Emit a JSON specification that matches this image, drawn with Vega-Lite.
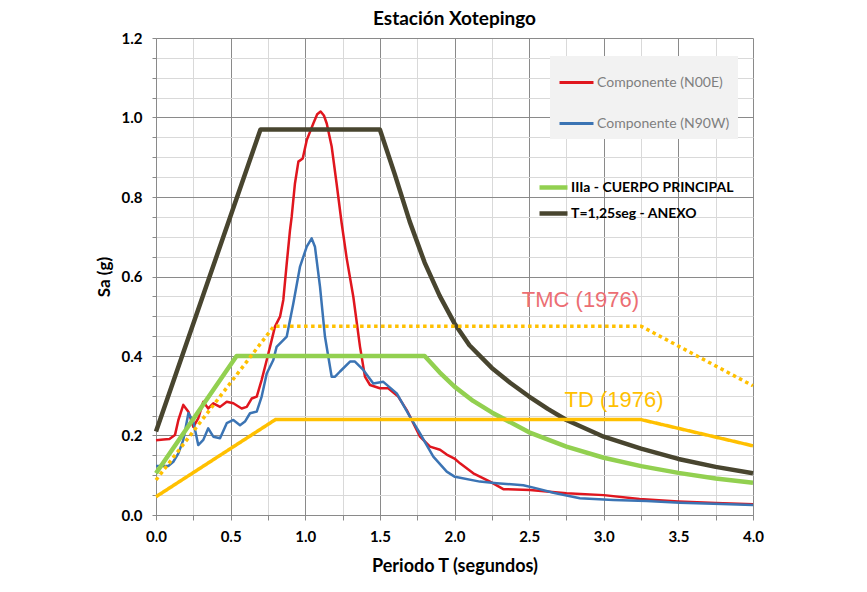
{
  "$schema": "https://vega.github.io/schema/vega-lite/v6.json",
  "width": 597,
  "height": 477,
  "autosize": {"type": "none"},
  "padding": {"left": 156, "top": 38, "right": 114, "bottom": 77},
  "background": "white",
  "config": {"view": {"stroke": null}, "font": "Lato"},
  "title": {"text": "Estación Xotepingo", "font": "Lato", "fontSize": 19, "fontWeight": "bold", "color": "#000000", "offset": 2},
  "datasets": {
    "registros": [
      {"T": 0.0, "Sa": 0.188, "serie": "Componente (N00E)"},
      {"T": 0.05, "Sa": 0.19, "serie": "Componente (N00E)"},
      {"T": 0.09, "Sa": 0.191, "serie": "Componente (N00E)"},
      {"T": 0.127, "Sa": 0.201, "serie": "Componente (N00E)"},
      {"T": 0.15, "Sa": 0.239, "serie": "Componente (N00E)"},
      {"T": 0.183, "Sa": 0.277, "serie": "Componente (N00E)"},
      {"T": 0.217, "Sa": 0.26, "serie": "Componente (N00E)"},
      {"T": 0.25, "Sa": 0.222, "serie": "Componente (N00E)"},
      {"T": 0.283, "Sa": 0.243, "serie": "Componente (N00E)"},
      {"T": 0.317, "Sa": 0.285, "serie": "Componente (N00E)"},
      {"T": 0.35, "Sa": 0.268, "serie": "Componente (N00E)"},
      {"T": 0.384, "Sa": 0.281, "serie": "Componente (N00E)"},
      {"T": 0.429, "Sa": 0.272, "serie": "Componente (N00E)"},
      {"T": 0.474, "Sa": 0.285, "serie": "Componente (N00E)"},
      {"T": 0.518, "Sa": 0.281, "serie": "Componente (N00E)"},
      {"T": 0.574, "Sa": 0.268, "serie": "Componente (N00E)"},
      {"T": 0.608, "Sa": 0.272, "serie": "Componente (N00E)"},
      {"T": 0.641, "Sa": 0.293, "serie": "Componente (N00E)"},
      {"T": 0.675, "Sa": 0.298, "serie": "Componente (N00E)"},
      {"T": 0.708, "Sa": 0.34, "serie": "Componente (N00E)"},
      {"T": 0.742, "Sa": 0.39, "serie": "Componente (N00E)"},
      {"T": 0.764, "Sa": 0.423, "serie": "Componente (N00E)"},
      {"T": 0.797, "Sa": 0.474, "serie": "Componente (N00E)"},
      {"T": 0.831, "Sa": 0.499, "serie": "Componente (N00E)"},
      {"T": 0.853, "Sa": 0.541, "serie": "Componente (N00E)"},
      {"T": 0.876, "Sa": 0.633, "serie": "Componente (N00E)"},
      {"T": 0.898, "Sa": 0.717, "serie": "Componente (N00E)"},
      {"T": 0.909, "Sa": 0.75, "serie": "Componente (N00E)"},
      {"T": 0.931, "Sa": 0.834, "serie": "Componente (N00E)"},
      {"T": 0.954, "Sa": 0.889, "serie": "Componente (N00E)"},
      {"T": 0.983, "Sa": 0.897, "serie": "Componente (N00E)"},
      {"T": 1.01, "Sa": 0.943, "serie": "Componente (N00E)"},
      {"T": 1.054, "Sa": 0.985, "serie": "Componente (N00E)"},
      {"T": 1.08, "Sa": 1.008, "serie": "Componente (N00E)"},
      {"T": 1.103, "Sa": 1.015, "serie": "Componente (N00E)"},
      {"T": 1.125, "Sa": 1.005, "serie": "Componente (N00E)"},
      {"T": 1.144, "Sa": 0.985, "serie": "Componente (N00E)"},
      {"T": 1.177, "Sa": 0.927, "serie": "Componente (N00E)"},
      {"T": 1.21, "Sa": 0.834, "serie": "Componente (N00E)"},
      {"T": 1.244, "Sa": 0.734, "serie": "Componente (N00E)"},
      {"T": 1.278, "Sa": 0.645, "serie": "Componente (N00E)"},
      {"T": 1.322, "Sa": 0.549, "serie": "Componente (N00E)"},
      {"T": 1.367, "Sa": 0.423, "serie": "Componente (N00E)"},
      {"T": 1.4, "Sa": 0.348, "serie": "Componente (N00E)"},
      {"T": 1.434, "Sa": 0.327, "serie": "Componente (N00E)"},
      {"T": 1.5, "Sa": 0.319, "serie": "Componente (N00E)"},
      {"T": 1.556, "Sa": 0.319, "serie": "Componente (N00E)"},
      {"T": 1.623, "Sa": 0.298, "serie": "Componente (N00E)"},
      {"T": 1.68, "Sa": 0.264, "serie": "Componente (N00E)"},
      {"T": 1.724, "Sa": 0.231, "serie": "Componente (N00E)"},
      {"T": 1.769, "Sa": 0.197, "serie": "Componente (N00E)"},
      {"T": 1.836, "Sa": 0.172, "serie": "Componente (N00E)"},
      {"T": 1.903, "Sa": 0.164, "serie": "Componente (N00E)"},
      {"T": 1.948, "Sa": 0.152, "serie": "Componente (N00E)"},
      {"T": 2.0, "Sa": 0.142, "serie": "Componente (N00E)"},
      {"T": 2.037, "Sa": 0.13, "serie": "Componente (N00E)"},
      {"T": 2.126, "Sa": 0.105, "serie": "Componente (N00E)"},
      {"T": 2.238, "Sa": 0.084, "serie": "Componente (N00E)"},
      {"T": 2.327, "Sa": 0.065, "serie": "Componente (N00E)"},
      {"T": 2.506, "Sa": 0.063, "serie": "Componente (N00E)"},
      {"T": 2.618, "Sa": 0.059, "serie": "Componente (N00E)"},
      {"T": 2.75, "Sa": 0.055, "serie": "Componente (N00E)"},
      {"T": 3.0, "Sa": 0.05, "serie": "Componente (N00E)"},
      {"T": 3.24, "Sa": 0.04, "serie": "Componente (N00E)"},
      {"T": 3.5, "Sa": 0.034, "serie": "Componente (N00E)"},
      {"T": 3.75, "Sa": 0.03, "serie": "Componente (N00E)"},
      {"T": 4.0, "Sa": 0.027, "serie": "Componente (N00E)"},
      {"T": 0.0, "Sa": 0.123, "serie": "Componente (N90W)"},
      {"T": 0.082, "Sa": 0.123, "serie": "Componente (N90W)"},
      {"T": 0.116, "Sa": 0.134, "serie": "Componente (N90W)"},
      {"T": 0.15, "Sa": 0.155, "serie": "Componente (N90W)"},
      {"T": 0.183, "Sa": 0.189, "serie": "Componente (N90W)"},
      {"T": 0.217, "Sa": 0.256, "serie": "Componente (N90W)"},
      {"T": 0.25, "Sa": 0.235, "serie": "Componente (N90W)"},
      {"T": 0.283, "Sa": 0.176, "serie": "Componente (N90W)"},
      {"T": 0.317, "Sa": 0.189, "serie": "Componente (N90W)"},
      {"T": 0.35, "Sa": 0.218, "serie": "Componente (N90W)"},
      {"T": 0.384, "Sa": 0.197, "serie": "Componente (N90W)"},
      {"T": 0.429, "Sa": 0.193, "serie": "Componente (N90W)"},
      {"T": 0.474, "Sa": 0.231, "serie": "Componente (N90W)"},
      {"T": 0.518, "Sa": 0.239, "serie": "Componente (N90W)"},
      {"T": 0.563, "Sa": 0.226, "serie": "Componente (N90W)"},
      {"T": 0.596, "Sa": 0.235, "serie": "Componente (N90W)"},
      {"T": 0.63, "Sa": 0.256, "serie": "Componente (N90W)"},
      {"T": 0.675, "Sa": 0.26, "serie": "Componente (N90W)"},
      {"T": 0.708, "Sa": 0.298, "serie": "Componente (N90W)"},
      {"T": 0.742, "Sa": 0.356, "serie": "Componente (N90W)"},
      {"T": 0.786, "Sa": 0.39, "serie": "Componente (N90W)"},
      {"T": 0.808, "Sa": 0.423, "serie": "Componente (N90W)"},
      {"T": 0.876, "Sa": 0.449, "serie": "Componente (N90W)"},
      {"T": 0.92, "Sa": 0.532, "serie": "Componente (N90W)"},
      {"T": 0.965, "Sa": 0.625, "serie": "Componente (N90W)"},
      {"T": 1.01, "Sa": 0.675, "serie": "Componente (N90W)"},
      {"T": 1.043, "Sa": 0.696, "serie": "Componente (N90W)"},
      {"T": 1.065, "Sa": 0.675, "serie": "Componente (N90W)"},
      {"T": 1.099, "Sa": 0.574, "serie": "Componente (N90W)"},
      {"T": 1.132, "Sa": 0.449, "serie": "Componente (N90W)"},
      {"T": 1.177, "Sa": 0.348, "serie": "Componente (N90W)"},
      {"T": 1.2, "Sa": 0.348, "serie": "Componente (N90W)"},
      {"T": 1.233, "Sa": 0.361, "serie": "Componente (N90W)"},
      {"T": 1.3, "Sa": 0.386, "serie": "Componente (N90W)"},
      {"T": 1.333, "Sa": 0.386, "serie": "Componente (N90W)"},
      {"T": 1.389, "Sa": 0.365, "serie": "Componente (N90W)"},
      {"T": 1.456, "Sa": 0.331, "serie": "Componente (N90W)"},
      {"T": 1.523, "Sa": 0.335, "serie": "Componente (N90W)"},
      {"T": 1.613, "Sa": 0.306, "serie": "Componente (N90W)"},
      {"T": 1.702, "Sa": 0.247, "serie": "Componente (N90W)"},
      {"T": 1.769, "Sa": 0.205, "serie": "Componente (N90W)"},
      {"T": 1.858, "Sa": 0.147, "serie": "Componente (N90W)"},
      {"T": 1.948, "Sa": 0.109, "serie": "Componente (N90W)"},
      {"T": 2.003, "Sa": 0.096, "serie": "Componente (N90W)"},
      {"T": 2.17, "Sa": 0.084, "serie": "Componente (N90W)"},
      {"T": 2.283, "Sa": 0.08, "serie": "Componente (N90W)"},
      {"T": 2.461, "Sa": 0.075, "serie": "Componente (N90W)"},
      {"T": 2.55, "Sa": 0.067, "serie": "Componente (N90W)"},
      {"T": 2.662, "Sa": 0.056, "serie": "Componente (N90W)"},
      {"T": 2.84, "Sa": 0.042, "serie": "Componente (N90W)"},
      {"T": 3.064, "Sa": 0.038, "serie": "Componente (N90W)"},
      {"T": 3.288, "Sa": 0.035, "serie": "Componente (N90W)"},
      {"T": 3.51, "Sa": 0.031, "serie": "Componente (N90W)"},
      {"T": 3.734, "Sa": 0.028, "serie": "Componente (N90W)"},
      {"T": 4.0, "Sa": 0.025, "serie": "Componente (N90W)"}
    ],
    "espectros": [
      {"T": 0.0, "Sa": 0.105, "serie": "IIIa - CUERPO PRINCIPAL"},
      {"T": 0.54, "Sa": 0.4, "serie": "IIIa - CUERPO PRINCIPAL"},
      {"T": 1.8, "Sa": 0.4, "serie": "IIIa - CUERPO PRINCIPAL"},
      {"T": 1.9, "Sa": 0.359, "serie": "IIIa - CUERPO PRINCIPAL"},
      {"T": 2.0, "Sa": 0.323, "serie": "IIIa - CUERPO PRINCIPAL"},
      {"T": 2.125, "Sa": 0.287, "serie": "IIIa - CUERPO PRINCIPAL"},
      {"T": 2.25, "Sa": 0.258, "serie": "IIIa - CUERPO PRINCIPAL"},
      {"T": 2.5, "Sa": 0.208, "serie": "IIIa - CUERPO PRINCIPAL"},
      {"T": 2.75, "Sa": 0.172, "serie": "IIIa - CUERPO PRINCIPAL"},
      {"T": 3.0, "Sa": 0.144, "serie": "IIIa - CUERPO PRINCIPAL"},
      {"T": 3.25, "Sa": 0.123, "serie": "IIIa - CUERPO PRINCIPAL"},
      {"T": 3.5, "Sa": 0.106, "serie": "IIIa - CUERPO PRINCIPAL"},
      {"T": 3.75, "Sa": 0.092, "serie": "IIIa - CUERPO PRINCIPAL"},
      {"T": 4.0, "Sa": 0.081, "serie": "IIIa - CUERPO PRINCIPAL"},
      {"T": 0.0, "Sa": 0.21, "serie": "T=1,25seg - ANEXO"},
      {"T": 0.7, "Sa": 0.97, "serie": "T=1,25seg - ANEXO"},
      {"T": 1.5, "Sa": 0.97, "serie": "T=1,25seg - ANEXO"},
      {"T": 1.6, "Sa": 0.857, "serie": "T=1,25seg - ANEXO"},
      {"T": 1.7, "Sa": 0.738, "serie": "T=1,25seg - ANEXO"},
      {"T": 1.8, "Sa": 0.635, "serie": "T=1,25seg - ANEXO"},
      {"T": 1.9, "Sa": 0.552, "serie": "T=1,25seg - ANEXO"},
      {"T": 2.0, "Sa": 0.482, "serie": "T=1,25seg - ANEXO"},
      {"T": 2.1, "Sa": 0.427, "serie": "T=1,25seg - ANEXO"},
      {"T": 2.25, "Sa": 0.37, "serie": "T=1,25seg - ANEXO"},
      {"T": 2.375, "Sa": 0.332, "serie": "T=1,25seg - ANEXO"},
      {"T": 2.5, "Sa": 0.298, "serie": "T=1,25seg - ANEXO"},
      {"T": 2.625, "Sa": 0.267, "serie": "T=1,25seg - ANEXO"},
      {"T": 2.75, "Sa": 0.239, "serie": "T=1,25seg - ANEXO"},
      {"T": 3.0, "Sa": 0.197, "serie": "T=1,25seg - ANEXO"},
      {"T": 3.25, "Sa": 0.167, "serie": "T=1,25seg - ANEXO"},
      {"T": 3.5, "Sa": 0.141, "serie": "T=1,25seg - ANEXO"},
      {"T": 3.75, "Sa": 0.121, "serie": "T=1,25seg - ANEXO"},
      {"T": 4.0, "Sa": 0.105, "serie": "T=1,25seg - ANEXO"}
    ],
    "norma": [
      {"T": 0.0, "Sa": 0.088, "serie": "TMC (1976)"},
      {"T": 0.79, "Sa": 0.475, "serie": "TMC (1976)"},
      {"T": 3.25, "Sa": 0.475, "serie": "TMC (1976)"},
      {"T": 4.0, "Sa": 0.325, "serie": "TMC (1976)"},
      {"T": 0.0, "Sa": 0.046, "serie": "TD (1976)"},
      {"T": 0.8, "Sa": 0.24, "serie": "TD (1976)"},
      {"T": 3.25, "Sa": 0.24, "serie": "TD (1976)"},
      {"T": 4.0, "Sa": 0.174, "serie": "TD (1976)"}
    ],
    "etiquetas": [
      {"T": 2.844, "Sa": 0.541, "serie": "TMC (1976)"},
      {"T": 3.069, "Sa": 0.289, "serie": "TD (1976)"}
    ]
  },
  "encoding": {
    "x": {
      "field": "T",
      "type": "quantitative",
      "scale": {"domain": [0, 4], "nice": false, "zero": false},
      "axis": {
        "title": "Periodo T (segundos)",
        "values": [0, 0.25, 0.5, 0.75, 1, 1.25, 1.5, 1.75, 2, 2.25, 2.5, 2.75, 3, 3.25, 3.5, 3.75, 4],
        "labelExpr": "abs(datum.value*2 - round(datum.value*2)) < 0.001 ? format(datum.value, '.1f') : ''",
        "gridColor": {"condition": {"test": "abs(datum.value*2 - round(datum.value*2)) < 0.001", "value": "#8a8a8a"}, "value": "#d9d9d9"},
        "gridWidth": 1,
        "tickColor": "#8a8a8a",
        "tickSize": 5,
        "domainColor": "#8a8a8a",
        "labelFont": "Lato",
        "labelFontSize": 15,
        "labelFontWeight": "bold",
        "labelColor": "#000000",
        "labelPadding": 9,
        "labelOverlap": false,
        "labelFlush": false,
        "titleFont": "Lato",
        "titleFontSize": 18,
        "titleFontWeight": "bold",
        "titleColor": "#000000",
        "titlePadding": 13
      }
    },
    "y": {
      "field": "Sa",
      "type": "quantitative",
      "scale": {"domain": [0, 1.2], "nice": false, "zero": false},
      "axis": {
        "title": "Sa (g)",
        "values": [0, 0.05, 0.1, 0.15, 0.2, 0.25, 0.3, 0.35, 0.4, 0.45, 0.5, 0.55, 0.6, 0.65, 0.7, 0.75, 0.8, 0.85, 0.9, 0.95, 1, 1.05, 1.1, 1.15, 1.2],
        "labelExpr": "abs(datum.value*5 - round(datum.value*5)) < 0.001 ? format(datum.value, '.1f') : ''",
        "gridColor": {"condition": {"test": "abs(datum.value*5 - round(datum.value*5)) < 0.001", "value": "#8a8a8a"}, "value": "#d9d9d9"},
        "gridWidth": 1,
        "tickColor": "#8a8a8a",
        "tickSize": 4,
        "domainColor": "#8a8a8a",
        "labelFont": "Lato",
        "labelFontSize": 15,
        "labelFontWeight": "bold",
        "labelColor": "#000000",
        "labelPadding": 10,
        "labelOverlap": false,
        "labelFlush": false,
        "titleFont": "Lato",
        "titleFontSize": 17,
        "titleFontWeight": "bold",
        "titleColor": "#000000",
        "titlePadding": 8
      }
    }
  },
  "layer": [
    {
      "data": {"name": "registros"},
      "mark": {"type": "line", "strokeWidth": 2.5, "strokeJoin": "round"},
      "encoding": {
        "color": {
          "field": "serie",
          "type": "nominal",
          "scale": {"domain": ["Componente (N00E)", "Componente (N90W)"], "range": ["#E0161E", "#3B74B4"]},
          "legend": {
            "title": null,
            "orient": "none",
            "legendX": 394,
            "legendY": 18,
            "fillColor": "#f2f2f2",
            "padding": 8,
            "rowPadding": 15,
            "symbolType": "stroke",
            "symbolSize": 1156,
            "symbolStrokeWidth": 3,
            "labelFont": "Lato",
            "labelFontSize": 14,
            "labelColor": "#7f7f7f",
            "labelOffset": 2,
            "labelLimit": 300
          }
        }
      }
    },
    {
      "data": {"name": "espectros"},
      "mark": {"type": "line", "strokeWidth": 4.5, "strokeJoin": "round"},
      "encoding": {
        "color": {
          "field": "serie",
          "type": "nominal",
          "scale": {"domain": ["IIIa - CUERPO PRINCIPAL", "T=1,25seg - ANEXO"], "range": ["#92D050", "#48452F"]},
          "legend": {
            "title": null,
            "orient": "none",
            "legendX": 381,
            "legendY": 133,
            "padding": 0,
            "rowPadding": 0,
            "symbolType": "stroke",
            "symbolSize": 784,
            "symbolStrokeWidth": 4.5,
            "labelFont": "Lato",
            "labelFontSize": 14,
            "labelFontWeight": "bold",
            "labelColor": "#000000",
            "labelOffset": 1,
            "labelLimit": 300
          }
        }
      }
    },
    {
      "data": {"name": "norma"},
      "mark": {"type": "line", "strokeWidth": 3.5, "color": "#FFC000", "strokeCap": "butt"},
      "encoding": {
        "strokeDash": {
          "field": "serie",
          "type": "nominal",
          "scale": {"domain": ["TMC (1976)", "TD (1976)"], "range": [[3.5, 3.5], [1, 0]]},
          "legend": null
        }
      }
    },
    {
      "data": {"name": "etiquetas"},
      "mark": {"type": "text", "font": "Liberation Sans", "fontSize": 22, "align": "center", "baseline": "middle"},
      "encoding": {
        "text": {"field": "serie", "type": "nominal"},
        "color": {
          "field": "serie",
          "type": "nominal",
          "scale": {"domain": ["TMC (1976)", "TD (1976)"], "range": ["#EC6E73", "#FFC000"]},
          "legend": null
        }
      }
    }
  ],
  "resolve": {"scale": {"color": "independent"}}
}
